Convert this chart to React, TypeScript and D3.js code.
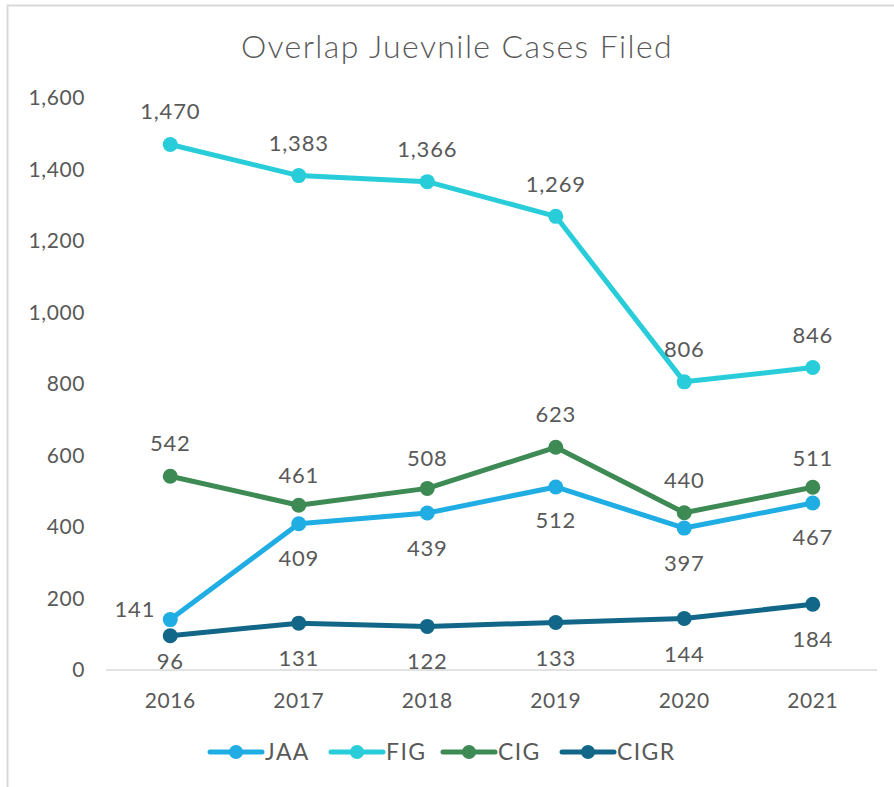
import * as d3 from 'd3';
import { useEffect, useRef } from 'react';

const years = ['2016', '2017', '2018', '2019', '2020', '2021'];
const jaa = [141, 409, 439, 512, 397, 467];
const fig = [1470, 1383, 1366, 1269, 806, 846];
const cig = [542, 461, 508, 623, 440, 511];
const cigr = [96, 131, 122, 133, 144, 184];
const yTicks = [0, 200, 400, 600, 800, 1000, 1200, 1400, 1600];

type Series = {
  name: string;
  values: number[];
  colour: string;
  // vertical offset of the label centre from the point (px)
  dy: number[];
  left?: boolean[];
};

const series: Series[] = [
  { name: 'JAA', values: jaa, colour: '#1fade3', dy: [-10, 35, 35, 34, 35, 34], left: [true, false, false, false, false, false] },
  { name: 'FIG', values: fig, colour: '#29cdd9', dy: [-33, -32, -32, -32, -32, -32] },
  { name: 'CIG', values: cig, colour: '#3e8a54', dy: [-33, -30, -30, -33, -32, -29] },
  { name: 'CIGR', values: cigr, colour: '#126789', dy: [26, 35, 35, 36, 36, 35] },
];

const W = 894;
const H = 787;
const font = "'Lato', 'DejaVu Sans', sans-serif";
const textColour = '#595959';

export default function App() {
  const ref = useRef<SVGSVGElement>(null);

  useEffect(() => {
    const svg = d3.select(ref.current);
    svg.selectAll('*').remove();

    const x = d3.scaleBand(years, [106, 877]);
    const y = d3.scaleLinear([0, 1600], [670, 98]);
    const cx = (d: string) => (x(d) ?? 0) + x.bandwidth() / 2;

    // outer frame (only top and left visible)
    svg.append('path')
      .attr('d', `M7.5,${H} V5.5 H${W}`)
      .attr('fill', 'none')
      .attr('stroke', '#d9d9d9')
      .attr('stroke-width', 2);

    svg.append('text')
      .attr('x', 457)
      .attr('y', 58)
      .attr('text-anchor', 'middle')
      .attr('font-size', 32)
      .attr('font-weight', 300)
      .attr('letter-spacing', 1.4)
      .attr('fill', textColour)
      .attr('font-family', font)
      .text('Overlap Juevnile Cases Filed');

    // y axis labels
    svg.append('g')
      .selectAll('text')
      .data(yTicks)
      .join('text')
      .attr('x', 85)
      .attr('y', (d) => y(d) + 7)
      .attr('text-anchor', 'end')
      .attr('font-size', 21)
      .attr('letter-spacing', 0.6)
      .attr('fill', textColour)
      .attr('font-family', font)
      .text((d) => d3.format(',')(d));

    // x axis
    svg.append('line')
      .attr('x1', 106)
      .attr('x2', 877)
      .attr('y1', y(0))
      .attr('y2', y(0))
      .attr('stroke', '#d9d9d9')
      .attr('stroke-width', 1.5);

    svg.append('g')
      .selectAll('text')
      .data(years)
      .join('text')
      .attr('x', cx)
      .attr('y', 708)
      .attr('text-anchor', 'middle')
      .attr('font-size', 21)
      .attr('letter-spacing', 0.6)
      .attr('fill', textColour)
      .attr('font-family', font)
      .text((d) => d);

    const line = d3.line<number>()
      .x((_, i) => cx(years[i]))
      .y((d) => y(d));

    series.forEach((s) => {
      const g = svg.append('g');
      g.append('path')
        .attr('d', line(s.values))
        .attr('fill', 'none')
        .attr('stroke', s.colour)
        .attr('stroke-width', 5)
        .attr('stroke-linejoin', 'round')
        .attr('stroke-linecap', 'round');
      g.selectAll('circle')
        .data(s.values)
        .join('circle')
        .attr('cx', (_, i) => cx(years[i]))
        .attr('cy', (d) => y(d))
        .attr('r', 7.5)
        .attr('fill', s.colour);
    });

    series.forEach((s) => {
      svg.append('g')
        .selectAll('text')
        .data(s.values)
        .join('text')
        .attr('x', (_, i) => cx(years[i]) + (s.left?.[i] ? -15 : 0))
        .attr('y', (d, i) => y(d) + s.dy[i] + 7.5)
        .attr('text-anchor', (_, i) => (s.left?.[i] ? 'end' : 'middle'))
        .attr('font-size', 22)
        .attr('letter-spacing', 0.8)
        .attr('fill', textColour)
        .attr('font-family', font)
        .text((d) => d3.format(',')(d));
    });

    // legend
    const legendX = [210, 331, 443, 562];
    const legend = svg.append('g');
    series.forEach((s, i) => {
      const lx = legendX[i];
      const ly = 752;
      legend.append('line')
        .attr('x1', lx)
        .attr('x2', lx + 52)
        .attr('y1', ly)
        .attr('y2', ly)
        .attr('stroke', s.colour)
        .attr('stroke-width', 5)
        .attr('stroke-linecap', 'round');
      legend.append('circle')
        .attr('cx', lx + 26)
        .attr('cy', ly)
        .attr('r', 7)
        .attr('fill', s.colour);
      legend.append('text')
        .attr('x', lx + 55)
        .attr('y', ly + 8)
        .attr('font-size', 23)
        .attr('letter-spacing', 1.4)
        .attr('fill', textColour)
        .attr('font-family', font)
        .text(s.name);
    });
  }, []);

  return (
    <svg
      ref={ref}
      width={W}
      height={H}
      style={{ position: 'absolute', left: 0, top: 0, background: '#fff' }}
    ></svg>
  );
}
